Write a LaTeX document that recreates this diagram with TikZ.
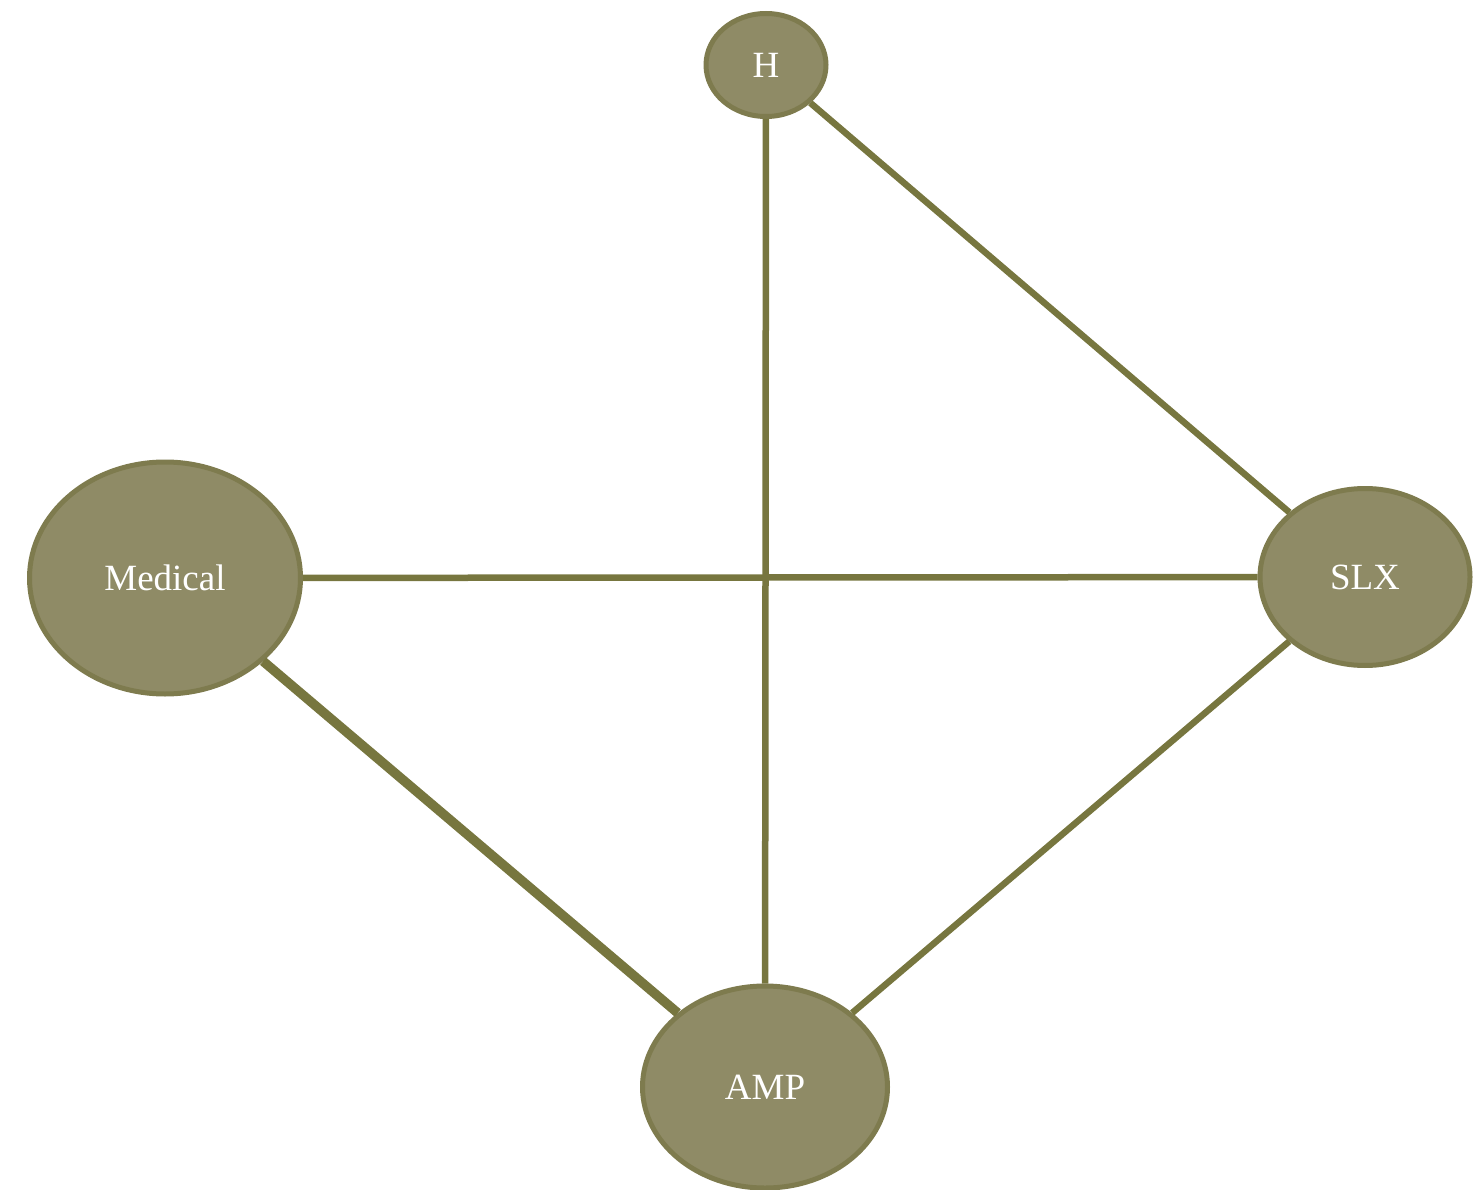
\documentclass[tikz,border=0pt]{standalone}
\usepackage{fontspec}
\setmainfont{Liberation Serif}
\usetikzlibrary{shapes.geometric}
\definecolor{olivefill}{HTML}{8F8B66}
\definecolor{oliveedge}{HTML}{7E7B4E}
\definecolor{oliveline}{HTML}{77763F}
\begin{document}
\begin{tikzpicture}[x=1pt,y=-1pt,
  blob/.style={ellipse,fill=olivefill,draw=oliveedge,line width=5pt,inner sep=0pt,
    text=white,font=\fontsize{37}{44}\selectfont},
  link/.style={oliveline,line width=6.5pt}]
\useasboundingbox (0,0) rectangle (1475,1190);
\node [blob,minimum width=120pt,minimum height=103pt] (h) at (766,65) {H};
\node [blob,minimum width=271pt,minimum height=232pt] (med) at (165,578) {Medical};
\node [blob,minimum width=210pt,minimum height=177pt] (slx) at (1365,577) {SLX};
\node [blob,minimum width=245pt,minimum height=202pt] (amp) at (765,1087) {AMP};
\draw [link] (h) -- (amp);
\draw [link] (h) -- (slx);
\draw [link] (med) -- (slx);
\draw [link,line width=9.5pt] (med) -- (amp);
\draw [link] (slx) -- (amp);
\end{tikzpicture}
\end{document}
